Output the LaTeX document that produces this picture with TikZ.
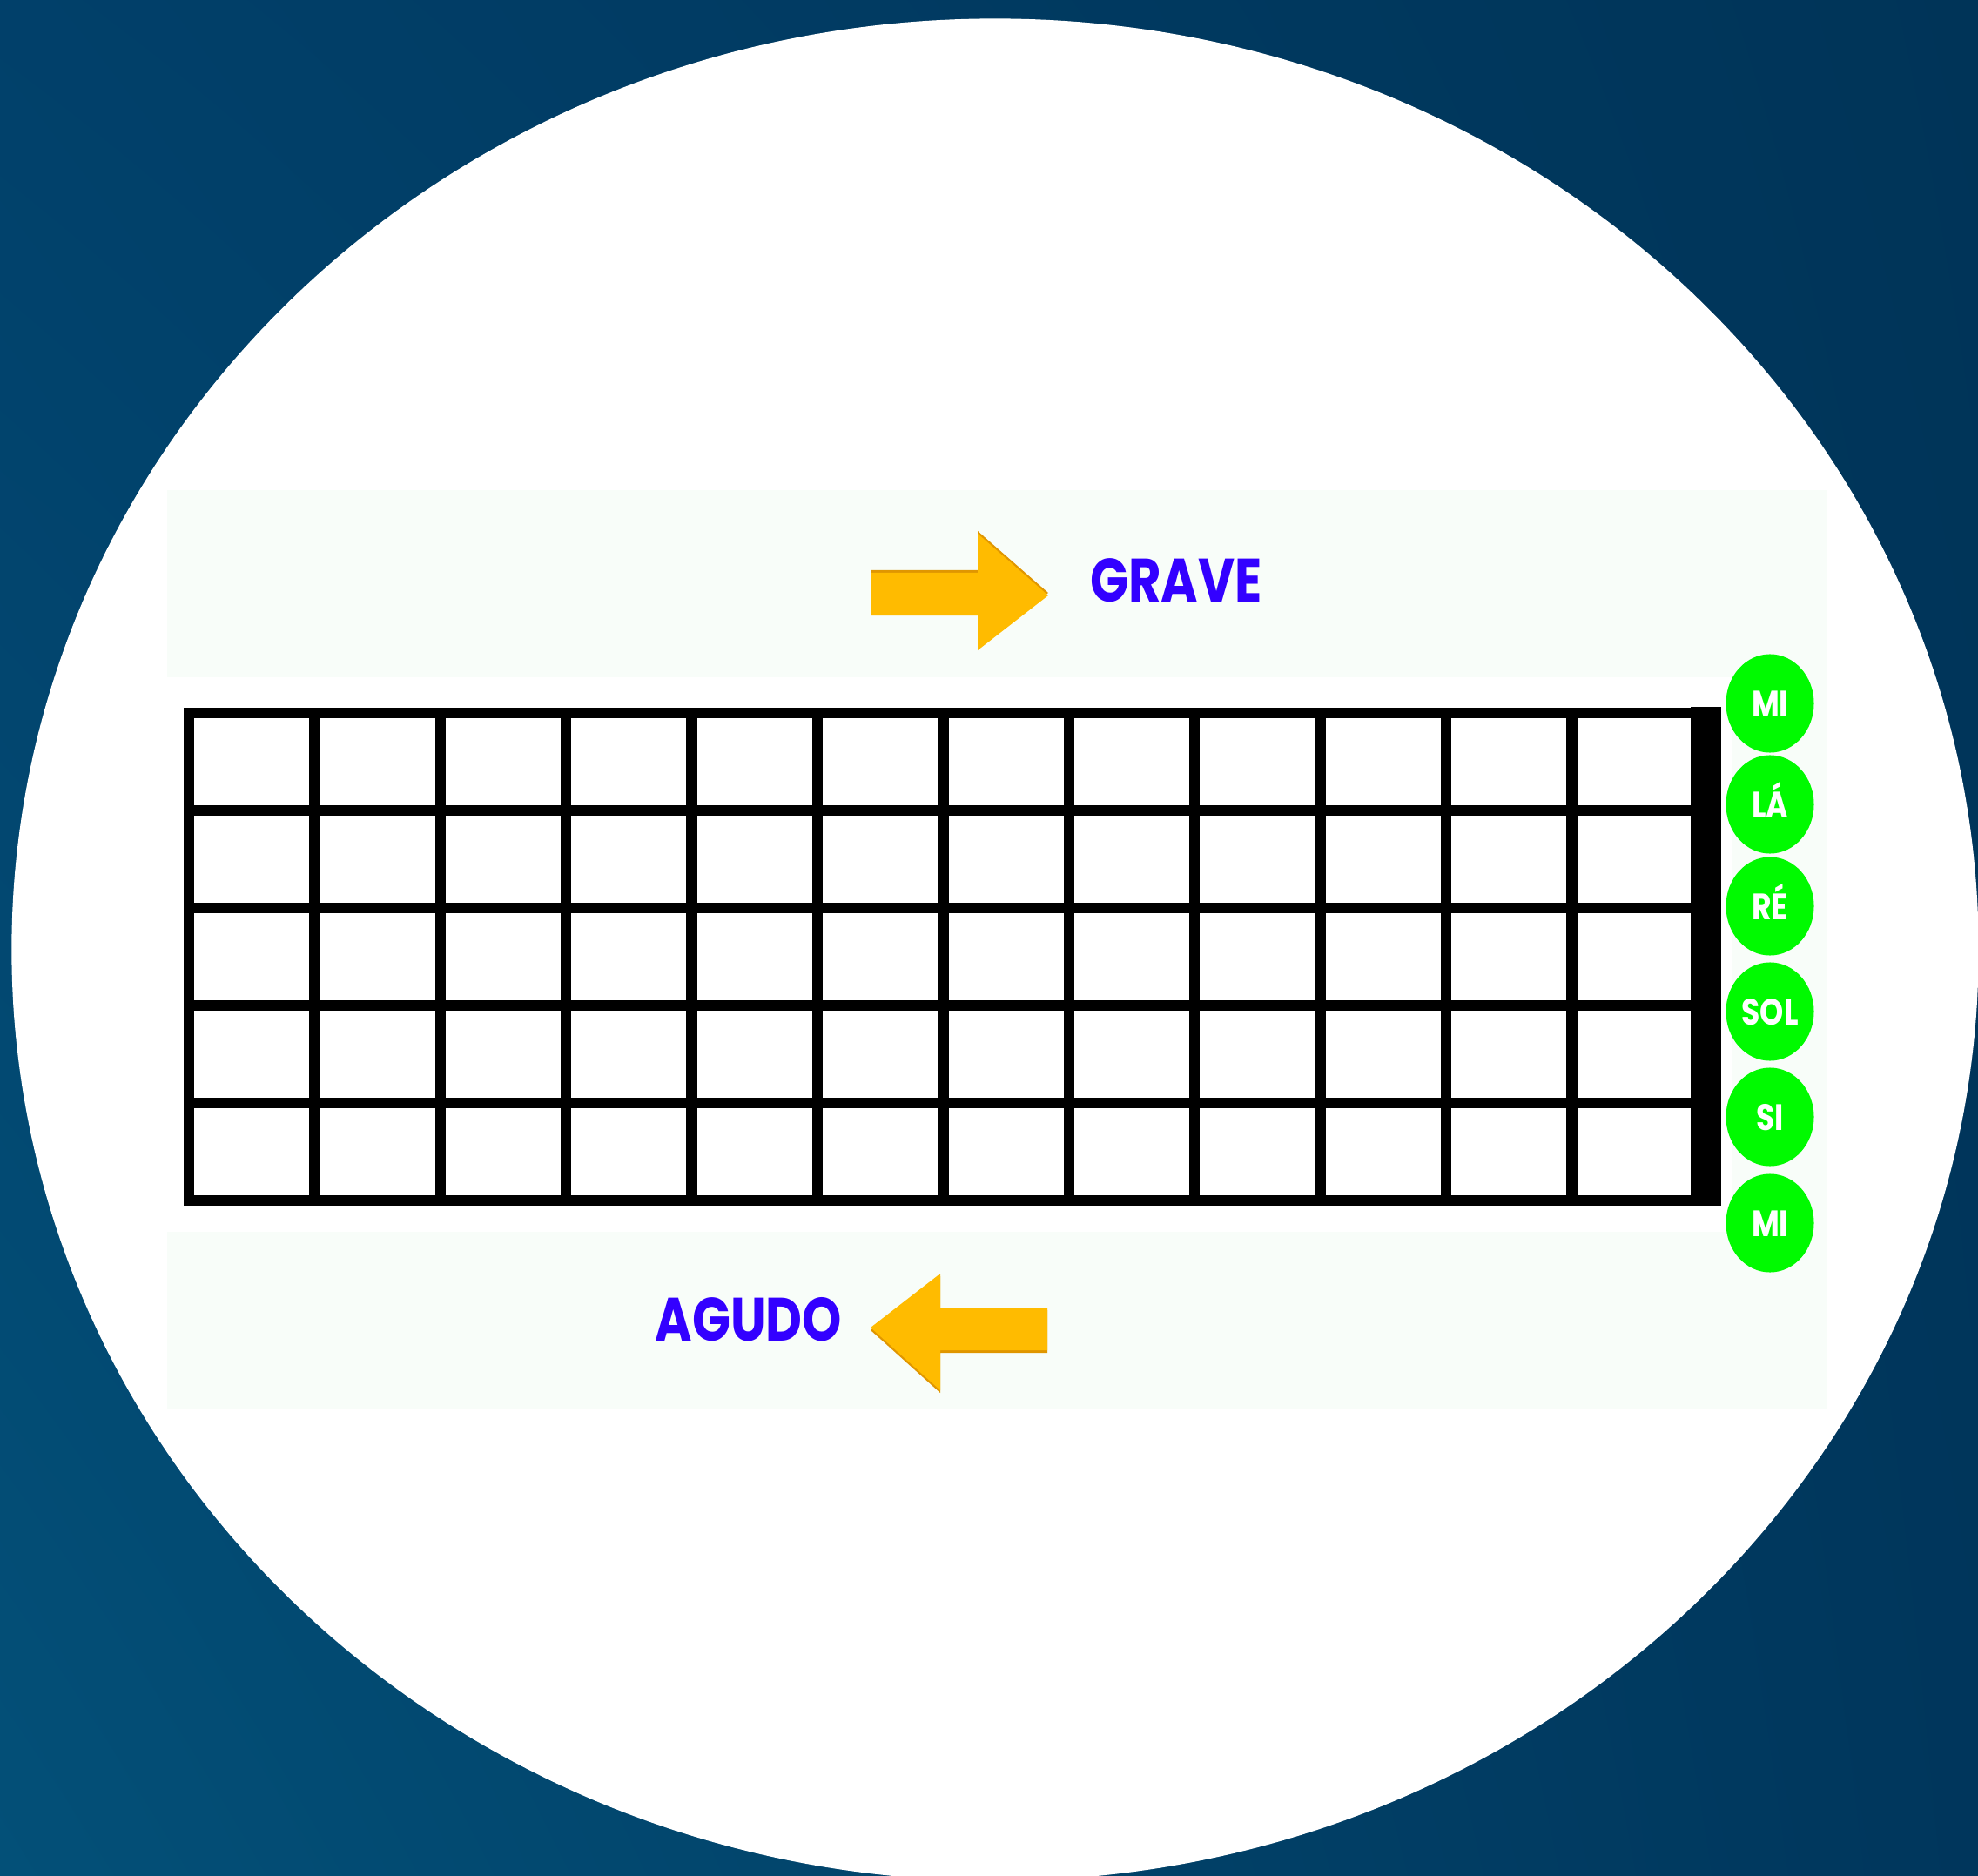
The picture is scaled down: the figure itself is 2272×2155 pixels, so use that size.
\documentclass[tikz,border=0pt]{standalone}
\usepackage{fontspec}
\newfontfamily\notefont{Poppins}[FakeStretch=0.82]
\usetikzlibrary{shapes.geometric, shadings}
\definecolor{bgA}{RGB}{1,64,106}
\definecolor{bgB}{RGB}{0,52,88}
\definecolor{bgC}{RGB}{3,80,120}
\definecolor{bgD}{RGB}{0,54,92}
\definecolor{panel}{RGB}{248,253,249}
\definecolor{notegreen}{RGB}{0,250,0}
\definecolor{labelblue}{RGB}{51,0,255}
\definecolor{arrowgold}{RGB}{255,187,0}
\definecolor{arrowedge}{RGB}{224,150,0}

\begin{document}
\begin{tikzpicture}[
    x=0.01cm, y=-0.01cm,
    fret/.style={line width=1.25mm, black},
    dirlabel/.style={font=\notefont\bfseries\fontsize{20}{24}\selectfont, text=labelblue, anchor=base, inner sep=0},
    note/.style={ellipse, fill=notegreen, minimum width=1.01cm, minimum height=1.13cm, inner sep=0,
        text=white, font=\notefont\bfseries\fontsize{12}{14}\selectfont, text height=0.3cm, text depth=0pt}
]
\useasboundingbox (0,0) rectangle (2272,2155);
\clip (0,0) rectangle (2272,2155);
\shade[upper left=bgA, upper right=bgB, lower left=bgC, lower right=bgD] (0,0) rectangle (2272,2155);
\fill[white] (1143,1091) ellipse [x radius=11.29cm, y radius=10.69cm];
\fill[panel] (192,563) rectangle (2098,778);
\fill[panel] (192,1415) rectangle (2098,1618);
\fill[panel] (1990,563) rectangle (2098,1618);

\fill[arrowedge] (1001,655) -- (1123,655) -- (1123,610) -- (1204,681) -- (1123,744) -- (1123,704) -- (1001,704) -- cycle;
\fill[arrowgold] (1001,658) -- (1123,658) -- (1123,613) -- (1204,684) -- (1123,747) -- (1123,707) -- (1001,707) -- cycle;
\node[dirlabel] (grave) at (1351,692) {GRAVE};

\fill[arrowedge] (1000,1528) -- (1080,1466) -- (1080,1505) -- (1203,1505) -- (1203,1554) -- (1080,1554) -- (1080,1600) -- cycle;
\fill[arrowgold] (1000,1525) -- (1080,1463) -- (1080,1502) -- (1203,1502) -- (1203,1551) -- (1080,1551) -- (1080,1597) -- cycle;
\node[dirlabel] (agudo) at (860,1540) {AGUDO};

\foreach \r in {0,...,5} \draw[fret] (211,819+112*\r) -- (1950,819+112*\r);
\foreach \c in {0,...,11} \draw[fret] (217+144.4*\c,819) -- (217+144.4*\c,1379);
\fill[black] (1942,812) rectangle (1977,1385);

\node[note] (s1) at (2033,808) {MI};
\node[note] (s2) at (2033,924) {LÁ};
\node[note] (s3) at (2033,1041) {RÉ};
\node[note] (s4) at (2033,1162) {SOL};
\node[note] (s5) at (2033,1283) {SI};
\node[note] (s6) at (2033,1405) {MI};
\end{tikzpicture}
\end{document}
